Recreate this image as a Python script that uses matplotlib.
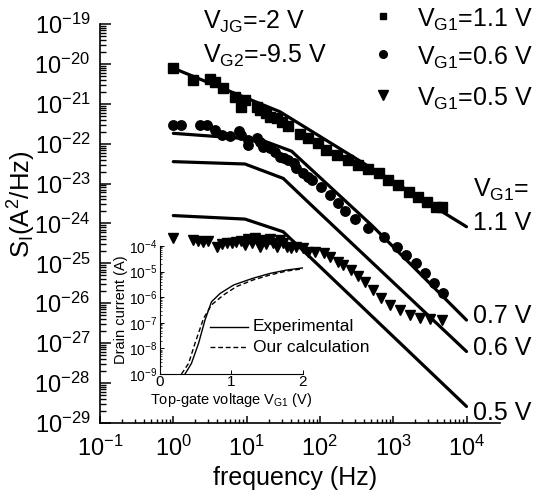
import numpy as np
import matplotlib
matplotlib.use("Agg")
import matplotlib.pyplot as plt
from matplotlib.lines import Line2D
from matplotlib.ticker import FixedLocator, NullFormatter, LogLocator

plt.rcParams['font.family'] = ['Liberation Sans', 'DejaVu Sans']
plt.rcParams['mathtext.fontset'] = 'custom'
plt.rcParams['mathtext.rm'] = 'Liberation Sans'
plt.rcParams['mathtext.it'] = 'Liberation Sans:italic'
plt.rcParams['mathtext.bf'] = 'Liberation Sans:bold'

# ---------------- data ----------------
sq_f = [1.0, 1.86, 3.16, 3.7, 4.8, 6.9, 8.5, 9.5, 13.8, 15.1, 18.6, 20.9, 25.7, 30.2, 37.2,
        53.7, 69, 95, 123, 170, 245, 331, 457, 631, 851, 1175, 1622, 2188, 2884, 3890, 4571]
sq_S = [7.8e-21, 4.0e-21, 4.1e-21, 3.5e-21, 2.5e-21, 1.5e-21, 8.5e-22, 1.26e-21, 8.5e-22, 6.9e-22,
        5.8e-22, 4.8e-22, 4.4e-22, 3.5e-22, 2.7e-22, 1.8e-22, 1.38e-22, 1.02e-22, 6.9e-23, 5.2e-23,
        3.9e-23, 2.95e-23, 2.3e-23, 1.82e-23, 1.23e-23, 9.3e-24, 6.3e-24, 4.7e-24, 3.5e-24, 2.6e-24, 2.6e-24]

ci_f = [1.0, 1.29, 2.3, 2.85, 3.7, 4.6, 5.9, 7.8, 8.5, 10.5, 10.5, 13.8, 15.1, 17.0, 20.9, 24.5,
        28.8, 32.4, 37.2, 43.7, 47.9, 58.9, 69, 77.6, 105, 138, 178, 219, 302, 457, 741, 1122,
        1514, 2042, 2754, 3631, 4786]
ci_S = [2.95e-22, 2.95e-22, 2.95e-22, 2.95e-22, 2.2e-22, 1.66e-22, 1.55e-22, 2.1e-22, 1.66e-22,
        1.23e-22, 9.3e-23, 1.38e-22, 1.12e-22, 8.3e-23, 7.6e-23, 6.3e-23, 4.7e-23, 4.3e-23, 3.9e-23,
        3.2e-23, 2.4e-23, 1.82e-23, 1.48e-23, 1.23e-23, 8.3e-24, 5.1e-24, 3.2e-24, 2.0e-24, 1.29e-24,
        7.6e-25, 4.5e-25, 2.6e-25, 1.62e-25, 1.0e-25, 5.6e-26, 3.2e-26, 1.86e-26]

tr_f = [1.0, 1.86, 2.19, 2.57, 3.0, 3.9, 4.6, 5.4, 6.3, 7.2, 8.5, 9.5, 10.5, 11.7, 12.9, 14.5,
        15.1, 17.0, 18.6, 20.9, 22.9, 25.7, 28.8, 31.6, 35.5, 40.7, 47.9, 58.9, 69, 85, 112, 138,
        178, 209, 269, 331, 417, 537, 692, 912, 1230, 1698, 2344, 3162, 4571]
tr_S = [4.3e-25, 3.9e-25, 3.7e-25, 3.5e-25, 3.7e-25, 2.6e-25, 3.1e-25, 3.3e-25, 3.2e-25, 3.5e-25,
        3.7e-25, 2.9e-25, 4.0e-25, 3.2e-25, 4.3e-25, 3.5e-25, 2.6e-25, 3.9e-25, 3.1e-25, 4.0e-25,
        3.2e-25, 2.6e-25, 3.9e-25, 3.2e-25, 2.6e-25, 2.4e-25, 2.6e-25, 2.4e-25, 1.95e-25, 1.95e-25,
        1.78e-25, 1.48e-25, 1.1e-25, 9.1e-26, 6.8e-26, 4.7e-26, 3.5e-26, 2.1e-26, 1.35e-26, 9.1e-27,
        6.8e-27, 5.1e-27, 4.2e-27, 4.0e-27, 3.8e-27]

# calculated curves
l11_f = [1, 28.6, 1e4]
l11_S = [7.8e-21, 6.3e-22, 8.3e-25]
l07_f = [1, 5.4, 15.5, 41, 513, 1e4]
l07_S = [1.82e-22, 1.45e-22, 1.26e-22, 6.5e-23, 8.9e-25, 3.8e-27]
l06_f = [1, 9.5, 31.6, 72, 1e4]
l06_S = [3.55e-23, 3.1e-23, 1.35e-23, 3.2e-24, 6.2e-28]
l05_f = [1, 9.5, 31.6, 72, 1e4]
l05_S = [1.58e-24, 1.29e-24, 6.2e-25, 1.48e-25, 2.6e-29]

# inset: drain current vs top-gate voltage
exp_V = [0.35, 0.44, 0.54, 0.63, 0.72, 0.84, 1.03, 1.30, 1.54, 1.77, 2.0]
exp_I = [1e-9, 2.6e-9, 1.6e-8, 1.3e-7, 6.6e-7, 1.4e-6, 3.0e-6, 5.5e-6, 8.5e-6, 1.15e-5, 1.4e-5]
cal_V = [0.30, 0.40, 0.49, 0.61, 0.72, 0.89, 1.07, 1.30, 1.54, 1.77, 2.0]
cal_I = [1e-9, 2.6e-9, 1.6e-8, 1.5e-7, 5.0e-7, 1.23e-6, 2.6e-6, 4.7e-6, 7.4e-6, 1.05e-5, 1.29e-5]

legend_labels = ['=1.1 V', '=0.6 V', '=0.5 V']
right_labels = ['1.1 V', '0.7 V', '0.6 V', '0.5 V']

# ---------------- figure ----------------
W, H = 534, 498
fig = plt.figure(figsize=(W / 100, H / 100), dpi=100)
fx = lambda px: px / W
fy = lambda py: 1 - py / H

ax = fig.add_axes([fx(100), fy(423), 400 / W, 399 / H])
ax.set_xscale('log')
ax.set_yscale('log')
ax.set_xlim(0.1, 10 ** (-1 + 400 / 73.3))
ax.set_ylim(1e-29, 1e-19)
for s in ['top', 'right']:
    ax.spines[s].set_visible(False)
for s in ['left', 'bottom']:
    ax.spines[s].set_linewidth(1.2)

ax.xaxis.set_major_locator(FixedLocator([10.0 ** k for k in range(-1, 5)]))
ax.xaxis.set_minor_locator(FixedLocator([m * 10.0 ** k for k in range(-1, 4) for m in range(2, 10)]))
ax.xaxis.set_minor_formatter(NullFormatter())
ax.yaxis.set_major_locator(FixedLocator([10.0 ** k for k in range(-29, -18)]))
ax.yaxis.set_minor_locator(LogLocator(base=10, subs=np.arange(2, 10), numticks=30))
ax.yaxis.set_minor_formatter(NullFormatter())
ax.tick_params(axis='x', which='major', direction='in', length=5, width=1.1, labelsize=17, pad=9)
ax.tick_params(axis='x', which='minor', direction='in', length=3, width=1.0)
ax.tick_params(axis='y', which='major', direction='in', length=8, width=1.1, labelsize=17, pad=7)
ax.tick_params(axis='y', which='minor', direction='in', length=4, width=1.0)

lw = 2.3
for f, S in [(l11_f, l11_S), (l07_f, l07_S), (l06_f, l06_S), (l05_f, l05_S)]:
    ax.plot(f, S, color='black', lw=lw, solid_capstyle='round', zorder=2)

ax.plot(sq_f, sq_S, 's', color='black', ms=6.5, ls='none', zorder=3)
ax.plot(ci_f, ci_S, 'o', color='black', ms=6.8, ls='none', zorder=3)
ax.plot(tr_f, tr_S, 'v', color='black', ms=7.5, ls='none', zorder=3)

fig.text(fx(295), fy(478), 'frequency (Hz)', fontsize=18, ha='center', va='center')
fig.text(fx(22), fy(204), r'$\mathregular{S_I}$(A$^2$/Hz)', fontsize=18.5,
         rotation=90, ha='center', va='center')

# top texts
fig.text(fx(203), fy(29), r'$\mathregular{V_{JG}}$=-2 V', fontsize=18, ha='left', va='baseline')
fig.text(fx(203), fy(63), r'$\mathregular{V_{G2}}$=-9.5 V', fontsize=18, ha='left', va='baseline')

# legend
leg_y = [27, 65, 106]
leg_m = [('s', 5.0), ('o', 5.5), ('v', 6.5)]
for (mk, ms), yb, lab in zip(leg_m, leg_y, legend_labels):
    fig.add_artist(Line2D([fx(383)], [fy(yb - 11)], marker=mk, ms=ms, color='black', ls='none',
                          transform=fig.transFigure))
    fig.text(fx(417), fy(yb), r'$\mathregular{V_{G1}}$' + lab, fontsize=18, ha='left', va='baseline')

# right labels
fig.text(fx(473), fy(197), r'$\mathregular{V_{G1}}$=', fontsize=18, ha='left', va='baseline')
for lab, yb in zip(right_labels, [230, 323, 355, 420]):
    fig.text(fx(473), fy(yb), lab, fontsize=18, ha='left', va='baseline')

# ---------------- inset ----------------
ax2 = fig.add_axes([fx(160), fy(374), 143 / W, 128 / H])
ax2.patch.set_alpha(0)
ax2.set_yscale('log')
ax2.set_xlim(0, 2)
ax2.set_ylim(1e-9, 1e-4)
for s in ['top', 'right']:
    ax2.spines[s].set_visible(False)
for s in ['left', 'bottom']:
    ax2.spines[s].set_linewidth(0.8)
ax2.set_xticks([0, 1, 2])
ax2.yaxis.set_major_locator(FixedLocator([10.0 ** k for k in range(-9, -3)]))
ax2.yaxis.set_minor_locator(LogLocator(base=10, subs=np.arange(2, 10), numticks=30))
ax2.yaxis.set_minor_formatter(NullFormatter())
ax2.tick_params(axis='y', which='major', direction='in', length=3, width=0.7, labelsize=10, pad=2)
ax2.tick_params(axis='y', which='minor', direction='in', length=1.5, width=0.5)
ax2.tick_params(axis='x', which='major', direction='in', length=3, width=0.7, labelsize=11, pad=1)
ax2.plot(exp_V, exp_I, color='black', lw=1.0)
ax2.plot(cal_V, cal_I, color='black', lw=1.0, ls=(0, (3.5, 2)))
ax2.set_ylabel('Drain current (A)', fontsize=10.5, labelpad=1)
ax2.set_xlabel(r'Top-gate voltage $\mathregular{V_{G1}}$ (V)', fontsize=10.5, labelpad=1)

fig.add_artist(Line2D([fx(210), fx(248)], [fy(327), fy(327)], color='black', lw=1.0,
                      transform=fig.transFigure))
fig.add_artist(Line2D([fx(210), fx(248)], [fy(347), fy(347)], color='black', lw=1.0,
                      ls=(0, (3.5, 2)), transform=fig.transFigure))
fig.text(fx(253), fy(327), 'Experimental', fontsize=12.5, ha='left', va='center')
fig.text(fx(253), fy(347), 'Our calculation', fontsize=12.5, ha='left', va='center')

fig.savefig('out.png', dpi=100)
